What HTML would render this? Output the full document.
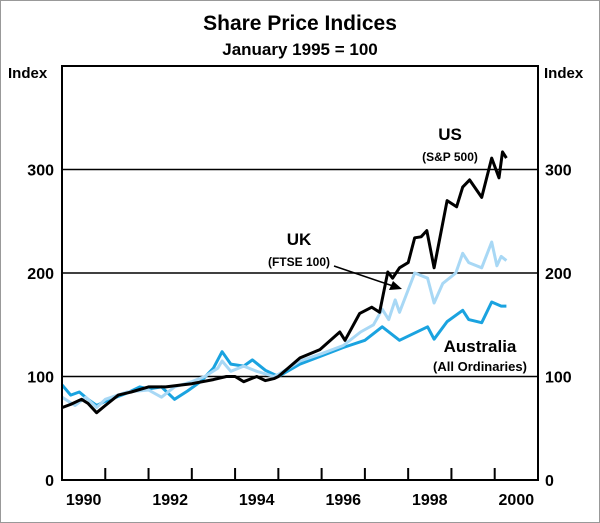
<!DOCTYPE html>
<html><head><meta charset="utf-8"><style>
body{margin:0;background:#fff;}
svg{display:block;font-family:"Liberation Sans",Arial,sans-serif;}
</style></head><body>
<svg width="600" height="523" viewBox="0 0 600 523">
<rect x="0.5" y="0.5" width="599" height="522" fill="#fff" stroke="#999"/>
<text x="300" y="30" text-anchor="middle" font-size="21" font-weight="bold">Share Price Indices</text>
<text x="300" y="55" text-anchor="middle" font-size="17" font-weight="bold">January 1995 = 100</text>
<text x="8" y="78" font-size="15" font-weight="bold">Index</text>
<text x="544" y="78" font-size="15" font-weight="bold">Index</text>
<g id="grid"></g>
<g id="series"></g>
<rect x="62" y="66" width="476" height="414" fill="none" stroke="#000" stroke-width="2"/>
<g id="axes"></g>
<text x="450" y="140" text-anchor="middle" font-size="17" font-weight="bold">US</text>
<text x="450" y="161" text-anchor="middle" font-size="12" font-weight="bold">(S&amp;P 500)</text>
<text x="299" y="245" text-anchor="middle" font-size="17" font-weight="bold">UK</text>
<text x="299" y="266" text-anchor="middle" font-size="12" font-weight="bold">(FTSE 100)</text>
<line x1="334" y1="266" x2="393" y2="286" stroke="#000" stroke-width="1.5"/>
<polygon points="402,289 389,290 393,281" fill="#000"/>
<text x="480" y="352" text-anchor="middle" font-size="17" font-weight="bold">Australia</text>
<text x="480" y="371" text-anchor="middle" font-size="13" font-weight="bold">(All Ordinaries)</text>
<script>
const yTicks=[0,100,200,300];
const yearLabels=[1990,1992,1994,1996,1998,2000];
const usT=[1990.0,1990.2,1990.45,1990.6,1990.8,1991.0,1991.3,1991.6,1992.0,1992.4,1992.8,1993.0,1993.5,1993.8,1994.0,1994.2,1994.5,1994.7,1994.9,1995.0,1995.5,1995.96,1996.42,1996.54,1996.88,1997.16,1997.34,1997.53,1997.64,1997.8,1998.0,1998.15,1998.3,1998.43,1998.6,1998.9,1999.12,1999.26,1999.42,1999.7,1999.93,2000.1,2000.18,2000.27];
const usV=[70,73,78,74,65,72,82,85,90,90,92,93,97,100,100,95,100,96,98,100,118,126,143,135,161,167,162,201,195,205,210,234,235,241,205,270,264,283,290,273,311,292,317,311];
const ukT=[1990.0,1990.3,1990.55,1990.8,1991.0,1991.5,1992.0,1992.3,1992.6,1993.0,1993.3,1993.6,1993.7,1993.9,1994.2,1994.5,1994.9,1995.0,1995.5,1996.0,1996.5,1996.9,1997.2,1997.4,1997.55,1997.7,1997.8,1998.15,1998.45,1998.6,1998.8,1999.1,1999.26,1999.4,1999.7,1999.93,2000.05,2000.15,2000.27];
const ukV=[80,72,80,70,78,85,87,80,90,95,100,108,115,105,110,105,100,102,115,122,130,143,150,165,155,174,162,200,195,171,190,200,219,210,205,230,207,216,212];
const auT=[1990.0,1990.2,1990.4,1990.6,1990.8,1991.0,1991.5,1991.8,1992.0,1992.3,1992.6,1992.9,1993.2,1993.5,1993.7,1993.9,1994.2,1994.4,1994.7,1995.0,1995.5,1996.0,1996.5,1997.0,1997.4,1997.8,1998.45,1998.6,1998.9,1999.26,1999.4,1999.7,1999.93,2000.15,2000.27];
const auV=[92,82,85,78,72,76,84,90,88,90,78,86,95,108,124,112,110,116,106,100,112,120,128,135,148,135,148,136,153,164,155,152,172,168,168];
const NS="http://www.w3.org/2000/svg";
function xs(t){return 62+(t-1990)*43.27;}
function ys(v){return 480-v*1.035;}
const grid=document.getElementById('grid'),axes=document.getElementById('axes'),ser=document.getElementById('series');
yTicks.forEach(v=>{
 if(v>0){const l=document.createElementNS(NS,'line');
 
 
 l.setAttribute('x1',62);l.setAttribute('x2',538);l.setAttribute('y1',ys(v));l.setAttribute('y2',ys(v));l.setAttribute('stroke','#000');l.setAttribute('stroke-width','1.5');grid.appendChild(l);}
 const a=document.createElementNS(NS,'text');
 
 
 a.setAttribute('x',54);a.setAttribute('y',ys(v)+6);a.setAttribute('text-anchor','end');a.setAttribute('font-size','16');a.setAttribute('font-weight','bold');a.textContent=v;axes.appendChild(a);
 const b=document.createElementNS(NS,'text');
 
 
 b.setAttribute('x',545);b.setAttribute('y',ys(v)+6);b.setAttribute('font-size','16');b.setAttribute('font-weight','bold');b.textContent=v;axes.appendChild(b);
});
for(let y=1991;y<=2000;y++){
 const l=document.createElementNS(NS,'line');
 
 
 l.setAttribute('x1',xs(y));l.setAttribute('x2',xs(y));l.setAttribute('y1',468);l.setAttribute('y2',480);l.setAttribute('stroke','#000');l.setAttribute('stroke-width','2');axes.appendChild(l);
}
yearLabels.forEach(y=>{
 const t=document.createElementNS(NS,'text');
 
 
 t.setAttribute('x',xs(y+0.5));t.setAttribute('y',505);t.setAttribute('text-anchor','middle');t.setAttribute('font-size','16');t.setAttribute('font-weight','bold');t.textContent=y;axes.appendChild(t);
});
function line(T,V,col,name){
 const p=document.createElementNS(NS,'polyline');
 
 
 p.setAttribute('points',T.map((t,i)=>xs(t).toFixed(1)+','+ys(V[i]).toFixed(1)).join(' '));
 p.setAttribute('fill','none');p.setAttribute('stroke',col);p.setAttribute('stroke-width','3');p.setAttribute('stroke-linejoin','round');ser.appendChild(p);
}
line(auT,auV,'#1aa3e0','australia-line');
line(ukT,ukV,'#a8d8f5','uk-line');
line(usT,usV,'#000','us-line');
</script>
</svg>
</body></html>
